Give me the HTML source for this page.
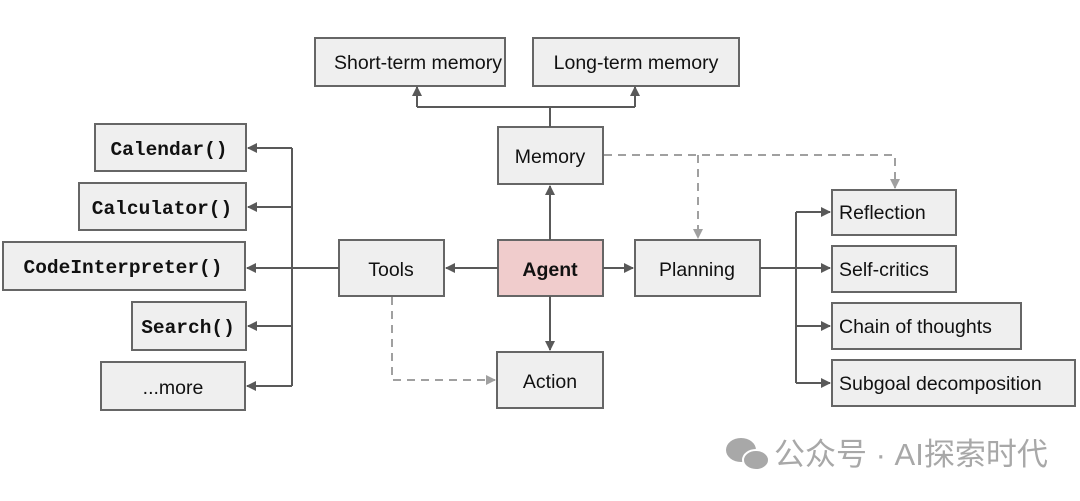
<!DOCTYPE html>
<html><head><meta charset="utf-8"><style>
body{margin:0;background:#fff;}
svg text{font-family:"Liberation Sans",Arial,sans-serif;font-size:19.5px;fill:#111;}
.m{font-family:"Liberation Mono",monospace;font-weight:bold;font-size:19.5px;}
</style></head><body>
<svg width="1080" height="496" viewBox="0 0 1080 496" xmlns="http://www.w3.org/2000/svg">
<defs>
<marker id="a" markerWidth="10" markerHeight="10" refX="9" refY="5" orient="auto" markerUnits="userSpaceOnUse"><path d="M0,0 L10,5 L0,10z" fill="#595959"/></marker>
<marker id="g" markerWidth="10" markerHeight="10" refX="9" refY="5" orient="auto" markerUnits="userSpaceOnUse"><path d="M0,0 L10,5 L0,10z" fill="#a0a0a0"/></marker>
</defs>
<g fill="#efefef" stroke="#666" stroke-width="2">
<rect x="315" y="38" width="190" height="48"/>
<rect x="533" y="38" width="206" height="48"/>
<rect x="498" y="127" width="105" height="57"/>
<rect x="498" y="240" width="105" height="56" fill="#f0cccc"/>
<rect x="339" y="240" width="105" height="56"/>
<rect x="497" y="352" width="106" height="56"/>
<rect x="635" y="240" width="125" height="56"/>
<rect x="95" y="124" width="151" height="47"/>
<rect x="79" y="183" width="167" height="47"/>
<rect x="3" y="242" width="242" height="48"/>
<rect x="132" y="302" width="114" height="48"/>
<rect x="101" y="362" width="144" height="48"/>
<rect x="832" y="190" width="124" height="45"/>
<rect x="832" y="246" width="124" height="46"/>
<rect x="832" y="303" width="189" height="46"/>
<rect x="832" y="360" width="243" height="46"/>
</g>
<g stroke="#595959" stroke-width="2" fill="none">
<path d="M550,127 V107 M417,107 H635" />
<path d="M417,107 V87" marker-end="url(#a)"/>
<path d="M635,107 V87" marker-end="url(#a)"/>
<path d="M550,240 V186" marker-end="url(#a)"/>
<path d="M550,296 V350" marker-end="url(#a)"/>
<path d="M498,268 H446" marker-end="url(#a)"/>
<path d="M603,268 H633" marker-end="url(#a)"/>
<path d="M339,268 H247" marker-end="url(#a)"/>
<path d="M292,148 V386"/>
<path d="M292,148 H248" marker-end="url(#a)"/>
<path d="M292,207 H248" marker-end="url(#a)"/>
<path d="M292,326 H248" marker-end="url(#a)"/>
<path d="M292,386 H247" marker-end="url(#a)"/>
<path d="M760,268 H830" marker-end="url(#a)"/>
<path d="M796,212 V383"/>
<path d="M796,212 H830" marker-end="url(#a)"/>
<path d="M796,326 H830" marker-end="url(#a)"/>
<path d="M796,383 H830" marker-end="url(#a)"/>
</g>
<g stroke="#a0a0a0" stroke-width="2" fill="none" stroke-dasharray="8,6">
<path d="M604,155 H895 V188" marker-end="url(#g)"/>
<path d="M698,155 V238" marker-end="url(#g)"/>
<path d="M392,297 V380 H495" marker-end="url(#g)"/>
</g>
<text x="418" y="69" text-anchor="middle">Short-term memory</text>
<text x="636" y="69" text-anchor="middle">Long-term memory</text>
<text x="550" y="163" text-anchor="middle">Memory</text>
<text x="550" y="276" text-anchor="middle" font-weight="bold">Agent</text>
<text x="391" y="276" text-anchor="middle">Tools</text>
<text x="550" y="388" text-anchor="middle">Action</text>
<text x="697" y="276" text-anchor="middle">Planning</text>
<text class="m" x="169" y="155" text-anchor="middle">Calendar()</text>
<text class="m" x="162" y="214" text-anchor="middle">Calculator()</text>
<text class="m" x="123" y="273" text-anchor="middle">CodeInterpreter()</text>
<text class="m" x="188" y="333" text-anchor="middle">Search()</text>
<text x="173" y="394" text-anchor="middle">...more</text>
<text x="839" y="219">Reflection</text>
<text x="839" y="276">Self-critics</text>
<text x="839" y="333">Chain of thoughts</text>
<text x="839" y="390">Subgoal decomposition</text>
<g fill="#a8a8a8">
<ellipse cx="741" cy="450" rx="15" ry="12"/>
<ellipse cx="756" cy="460" rx="13" ry="10" stroke="#fff" stroke-width="2"/>
</g>
<text x="774" y="465" style="font-family:'Liberation Sans','Noto Sans CJK SC',sans-serif;font-size:31px;fill:#a8a8a8">公众号 · AI探索时代</text>
</svg>
</body></html>
